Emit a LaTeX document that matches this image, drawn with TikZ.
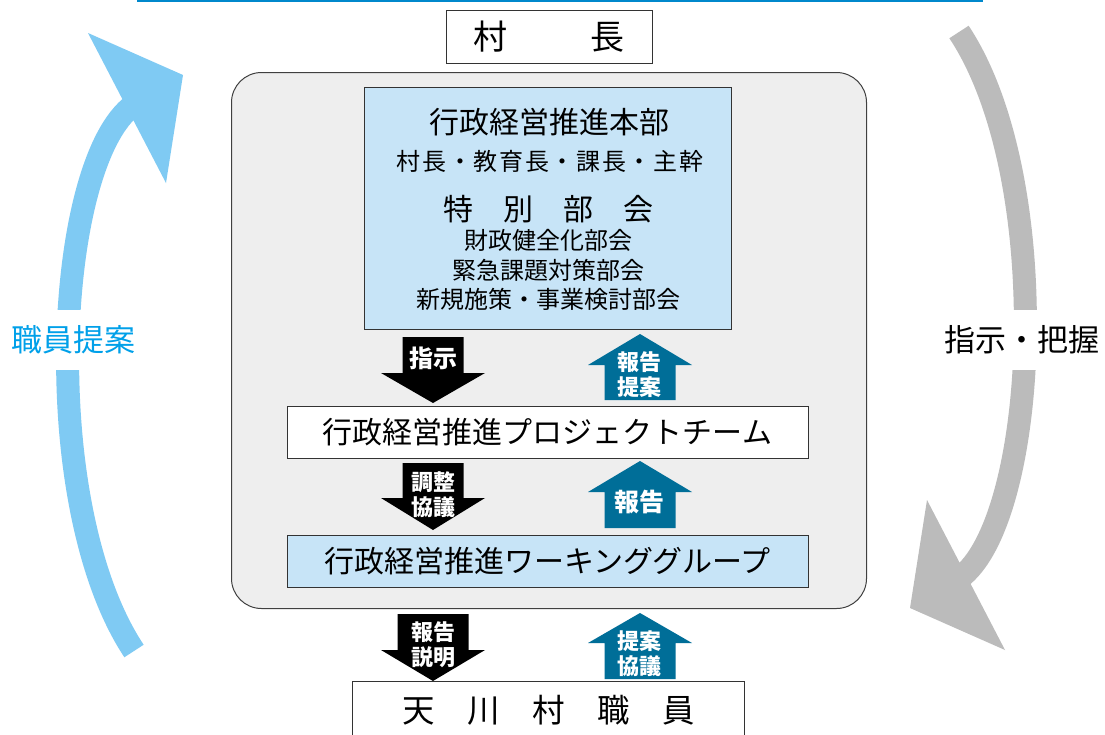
\documentclass[tikz,border=0pt]{standalone}
\usepackage{fontspec}
\setmainfont{Noto Sans CJK JP}
\definecolor{lblue}{RGB}{199,228,247}
\definecolor{arrblue}{RGB}{0,110,152}
\definecolor{skyarrow}{RGB}{127,202,243}
\definecolor{skytext}{RGB}{0,160,233}
\definecolor{grayarrow}{RGB}{187,187,187}
\definecolor{panelgray}{RGB}{238,238,238}
\definecolor{topline}{RGB}{0,136,204}
\newcommand\fs[2]{\fontsize{#1}{#2}\selectfont}
% down block arrow: x, top, head base, tip, half shaft
\newcommand\dnblk[5]{\fill[black] (#1-#5,#2) -- (#1+#5,#2) -- (#1+#5,#3) -- (#1+52,#3) -- (#1,#4) -- (#1-52,#3) -- (#1-#5,#3) -- cycle;}
% up block arrow: x, tip, head base, bottom, half shaft
\newcommand\upblk[5]{\fill[arrblue] (#1,#2) -- (#1+52,#3) -- (#1+#5,#3) -- (#1+#5,#4) -- (#1-#5,#4) -- (#1-#5,#3) -- (#1-52,#3) -- cycle;}
\begin{document}
\begin{tikzpicture}[x=1pt,y=-1pt,
  box/.style={draw=black!80, line width=1pt, inner sep=0pt},
  lbl/.style={text=white, inner sep=0pt, align=center, font=\bfseries\fs{22}{25}},
  side/.style={fill=white, inner xsep=3pt, inner ysep=0pt, minimum height=60pt, font=\fs{31}{31}}]
\useasboundingbox (0,0) rectangle (1105,734);
\clip (0,0) rectangle (1105,734);
\fill[white] (0,0) rectangle (1105,734);

% top line
\coordinate (tl) at (137,0.8);
\coordinate (tr) at (983,0.8);
\draw[topline, line width=1.8pt] (tl) -- (tr);

% curved side arrows
\begin{scope}
  \draw[skyarrow, line width=23pt] (134,651) .. controls (35.4,502.2) and (55,150) .. (138,102);
  \fill[skyarrow] (88,33) -- (183,75) -- (166,183) -- cycle;
\end{scope}
\begin{scope}[rotate around={180:(546.5,341.5)}]
  \draw[grayarrow, line width=23pt] (134,651) .. controls (35.4,502.2) and (55,150) .. (138,102);
  \fill[grayarrow] (88,33) -- (183,75) -- (166,183) -- cycle;
\end{scope}
\node[side, text=skytext] (staffprop) at (73.5,340) {職員提案};
\node[side, text=black] (instr) at (1021.5,340) {指示・把握};

% panel
\node[draw=black!75, line width=1pt, fill=panelgray, rounded corners=30pt, minimum width=635pt, minimum height=536pt, anchor=north west, inner sep=0pt] (panel) at (231,72) {};

% mayor
\node[box, fill=white, minimum width=206pt, minimum height=53pt, font=\fs{34}{34}] (mayor) at (549,36.5) {村\hspace{84pt}長};

% HQ box
\node[box, fill=lblue, minimum width=367pt, minimum height=242pt] (hq) at (547.5,208) {};
\node[font=\fs{30}{30}, inner sep=0pt] (hq1) at (549,122) {行政経営推進本部};
\node[font=\fs{24}{24}\addfontfeatures{LetterSpace=7}, inner sep=0pt] (hq2) at (550,161) {村長・教育長・課長・主幹};
\node[font=\fs{30}{30}, inner sep=0pt] (hq3) at (548,209) {特　別　部　会};
\node[font=\fs{24}{24}, inner sep=0pt] (hq4) at (548,240) {財政健全化部会};
\node[font=\fs{24}{24}, inner sep=0pt] (hq5) at (548,270) {緊急課題対策部会};
\node[font=\fs{24}{24}, inner sep=0pt] (hq6) at (548,299) {新規施策・事業検討部会};

% project team & working group
\node[box, fill=white, minimum width=521pt, minimum height=52pt, font=\fs{30}{30}] (pt) at (547.5,432) {行政経営推進プロジェクトチーム};
\node[box, fill=lblue, minimum width=521pt, minimum height=52pt, font=\fs{30}{30}] (wg) at (547.5,561) {行政経営推進ワーキンググループ};

% staff
\node[box, fill=white, minimum width=392pt, minimum height=70pt, anchor=north] (staff) at (548,681) {};
\node[font=\fs{32.5}{32.5}, inner sep=0pt] (stafftxt) at (549,710) {天　川　村　職　員};

% block arrows
\dnblk{433}{337}{373}{403}{30.5}
\node[lbl, font=\bfseries\fs{24}{24}] (a1) at (433,358) {指示};
\upblk{640}{334}{365}{400}{35.5}
\node[lbl] (u1) at (639,374.5) {報告\\提案};

\dnblk{433}{463}{498}{530}{30.5}
\node[lbl] (a2) at (433,495) {調整\\協議};
\upblk{640}{461}{492}{528}{35.5}
\node[lbl, font=\bfseries\fs{25}{25}] (u2) at (639,502) {報告};

\dnblk{433}{614}{650}{681}{35.5}
\node[lbl] (a3) at (433,644.5) {報告\\説明};
\upblk{640}{613}{643}{679}{35.5}
\node[lbl] (u3) at (639,654) {提案\\協議};
\end{tikzpicture}
\end{document}
